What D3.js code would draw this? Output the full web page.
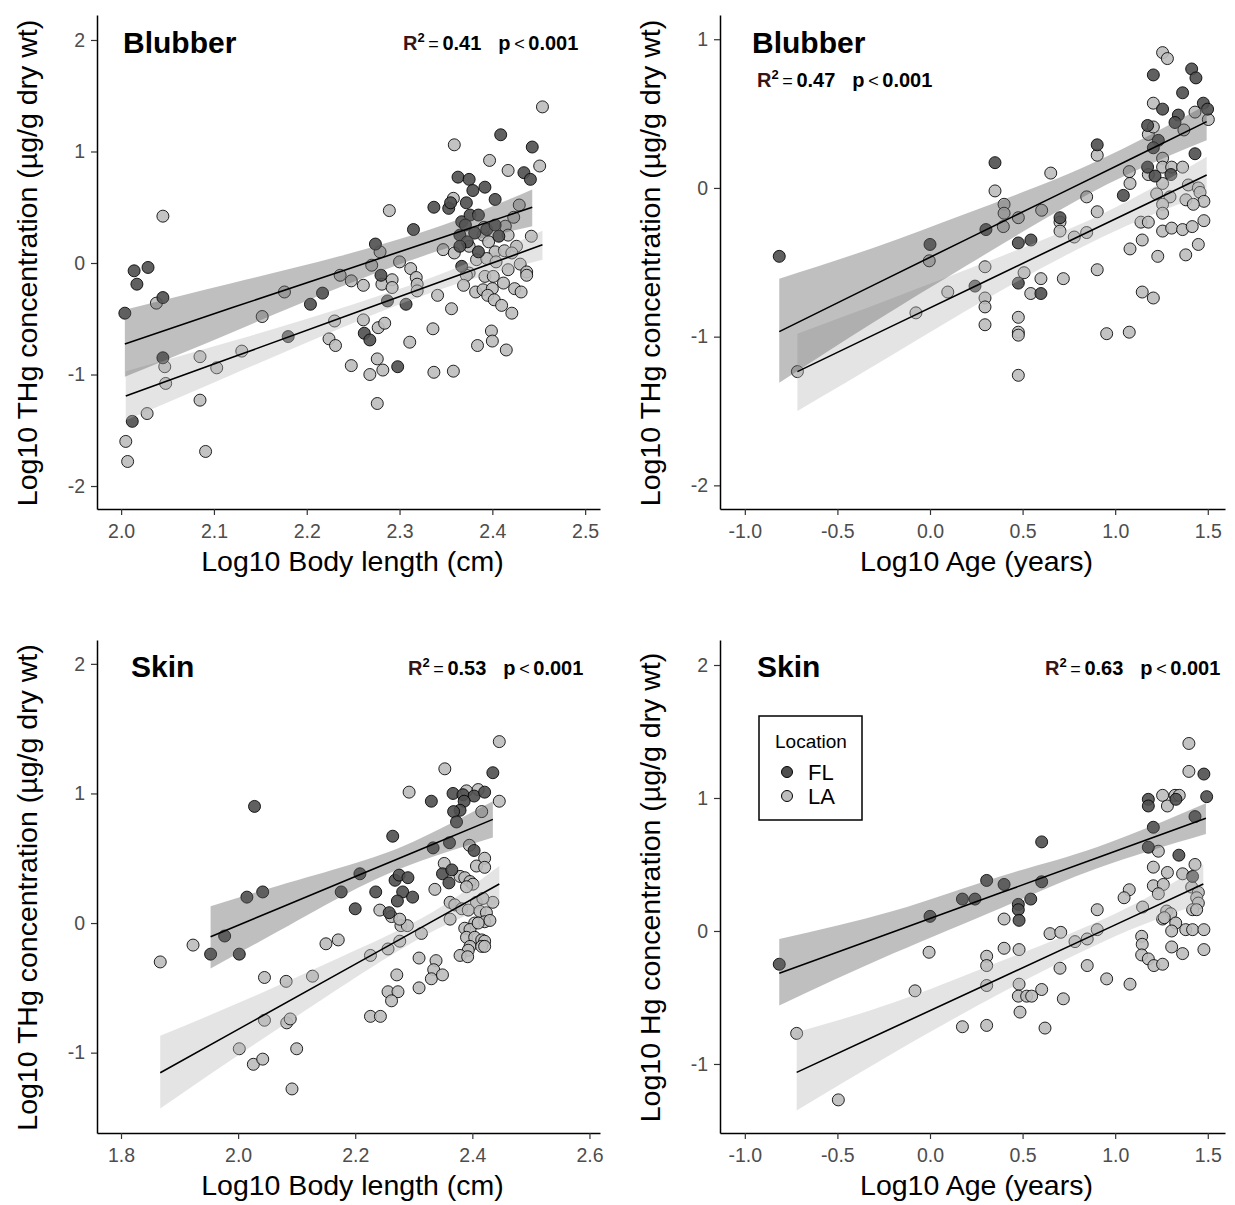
<!DOCTYPE html>
<meta charset="utf-8">
<style>
	body { margin: 0; background: #fff; font-family: "Liberation Sans", Arial, sans-serif; }
	.axis path, .axis line { stroke: #333; stroke-width: 1.2; }
	.axis .domain { stroke: #000; stroke-width: 1.5; }
	.axis text { fill: #4d4d4d; font-size: 19.5px; font-family: "Liberation Sans", Arial, sans-serif; }
	.title { font-weight: bold; font-size: 30px; fill: #000; }
	.lab { font-size: 28.5px; fill: #000; }
	.stat { font-size: 20px; fill: #000; }
</style>
<body>
<svg id="chart" width="1235" height="1205"></svg>

<script src="https://d3js.org/d3.v7.min.js"></script>
<script>
	// ---- data (log10 values) ----
	var blubLenFL = [[2.004,-0.45],[2.014,-0.07],[2.029,-0.04],[2.017,-0.19],[2.045,-0.31],[2.045,-0.85],[2.012,-1.42],[2.217,-0.27],[2.204,-0.37],[2.180,-0.66],
		[2.409,1.15],[2.443,1.04],[2.434,0.81],[2.441,0.75],[2.363,0.77],[2.375,0.75],[2.379,0.65],[2.392,0.68],[2.403,0.57],[2.337,0.50],[2.353,0.49],[2.355,0.54],
		[2.372,0.54],[2.315,0.30],[2.367,0.37],[2.376,0.43],[2.385,0.43],[2.371,0.34],[2.365,0.25],[2.381,0.27],[2.394,0.30],[2.403,0.34],[2.407,0.24],[2.373,0.19],
		[2.365,0.15],[2.385,0.10],[2.274,0.17],[2.367,-0.03],[2.280,-0.11],[2.307,-0.37],[2.262,-0.63],[2.268,-0.69],[2.298,-0.93],[2.287,-0.34]];
	var blubLenLA = [[2.045,0.42],[2.038,-0.36],[2.047,-0.93],[2.048,-1.08],[2.028,-1.35],[2.005,-1.60],[2.007,-1.78],[2.085,-0.84],[2.085,-1.23],[2.091,-1.69],
		[2.103,-0.94],[2.130,-0.79],[2.152,-0.48],[2.176,-0.26],[2.230,-0.52],[2.224,-0.68],[2.231,-0.74],
		[2.454,1.40],[2.359,1.06],[2.397,0.92],[2.417,0.83],[2.451,0.87],[2.289,0.47],[2.358,0.58],[2.429,0.52],[2.423,0.41],[2.442,0.24],[2.279,0.10],[2.270,-0.02],
		[2.300,0.01],[2.312,-0.05],[2.318,-0.13],[2.236,-0.11],[2.248,-0.16],[2.261,-0.20],[2.281,-0.19],[2.292,-0.15],[2.292,-0.22],[2.319,-0.19],[2.319,-0.25],
		[2.347,0.12],[2.359,0.09],[2.375,0.15],[2.390,0.25],[2.391,0.32],[2.396,0.19],[2.403,0.10],[2.414,0.33],[2.417,0.25],[2.426,0.15],[2.413,0.11],[2.421,0.09],
		[2.383,0.03],[2.394,0.04],[2.404,0.01],[2.430,-0.01],[2.437,-0.08],[2.437,-0.11],[2.417,-0.06],[2.375,-0.09],[2.372,-0.11],[2.392,-0.12],[2.401,-0.12],
		[2.412,-0.18],[2.369,-0.20],[2.382,-0.26],[2.390,-0.24],[2.400,-0.23],[2.395,-0.29],[2.402,-0.33],[2.410,-0.38],[2.424,-0.23],[2.431,-0.26],[2.421,-0.45],
		[2.341,-0.29],[2.356,-0.41],[2.261,-0.51],[2.277,-0.58],[2.284,-0.54],[2.311,-0.71],[2.336,-0.59],[2.384,-0.74],[2.399,-0.61],[2.400,-0.70],[2.415,-0.78],
		[2.248,-0.92],[2.268,-1.00],[2.276,-0.86],[2.282,-0.96],[2.337,-0.98],[2.358,-0.97],[2.276,-1.26]];

	var blubAgeFL = [[-0.814,-0.46],[0.0,-0.38],[0.243,-0.66],
		[1.206,0.76],[1.413,0.80],[1.436,0.74],[1.364,0.64],[1.256,0.53],[1.341,0.49],[1.476,0.57],[1.499,0.53],[1.175,0.42],[1.323,0.44],[0.903,0.29],[1.233,0.32],
		[1.206,0.27],[1.431,0.23],[0.351,0.17],[1.175,0.14],[1.301,0.09],[1.215,0.08],[1.044,-0.05],[0.702,-0.20],[0.302,-0.28],[0.477,-0.37],[0.545,-0.35],
		[0.477,-0.64],[0.599,-0.71]];
	var blubAgeLA = [[-0.004,-0.49],[0.096,-0.70],[-0.076,-0.84],[-0.716,-1.235],
		[1.256,0.91],[1.282,0.87],[1.206,0.57],[1.431,0.51],[1.503,0.46],[1.179,0.36],[1.206,0.41],[1.371,0.39],[0.903,0.22],[1.256,0.20],[1.256,0.14],[1.305,0.14],
		[1.364,0.14],[1.076,0.11],[0.652,0.10],[1.179,0.09],[0.351,-0.02],[1.080,0.03],[1.256,0.03],[1.395,0.02],[1.449,0.00],[1.224,-0.04],[1.458,-0.03],[1.296,-0.06],
		[0.846,-0.06],[1.256,-0.11],[1.382,-0.08],[1.479,-0.09],[1.422,-0.11],[0.400,-0.11],[0.400,-0.17],[0.477,-0.20],[0.603,-0.15],[1.256,-0.17],[0.903,-0.16],
		[0.396,-0.26],[0.702,-0.23],[0.702,-0.29],[0.779,-0.33],[0.846,-0.30],[1.139,-0.23],[1.179,-0.23],[1.256,-0.29],[1.305,-0.27],[1.364,-0.28],[1.416,-0.26],
		[1.479,-0.22],[1.146,-0.35],[1.080,-0.41],[1.230,-0.46],[1.381,-0.45],[1.449,-0.38],[0.297,-0.53],[0.508,-0.57],[0.599,-0.61],[0.720,-0.61],[0.544,-0.71],
		[0.903,-0.55],[1.146,-0.70],[1.206,-0.74],[0.297,-0.74],[0.297,-0.80],[0.297,-0.92],[0.477,-0.87],[0.477,-0.97],[0.477,-0.99],[0.954,-0.98],[1.076,-0.97],
		[0.477,-1.26]];

	var skinLenFL = [[2.028,0.90],[2.015,0.20],[2.042,0.24],[1.977,-0.10],[1.953,-0.24],[2.002,-0.24],[2.176,0.24],[2.200,0.11],[2.208,0.38],
		[2.435,1.16],[2.330,0.94],[2.367,1.00],[2.384,0.99],[2.403,0.98],[2.421,1.01],[2.386,0.94],[2.379,0.87],[2.368,0.86],[2.373,0.78],[2.264,0.67],[2.333,0.58],
		[2.361,0.62],[2.403,0.56],[2.349,0.38],[2.365,0.41],[2.360,0.31],[2.268,0.33],[2.275,0.37],[2.290,0.35],[2.235,0.24],[2.281,0.24],[2.272,0.17],[2.298,0.20],
		[2.258,0.08]];
	var skinLenLA = [[1.923,-0.17],[1.867,-0.30],[2.045,-0.42],[2.082,-0.45],[2.127,-0.41],[2.150,-0.16],[2.171,-0.13],[2.045,-0.75],[2.083,-0.77],[2.089,-0.74],
		[2.002,-0.97],[2.026,-1.09],[2.042,-1.05],[2.100,-0.97],[2.092,-1.28],
		[2.446,1.40],[2.353,1.19],[2.292,1.01],[2.390,1.02],[2.410,1.03],[2.446,0.94],[2.416,0.86],[2.395,0.60],[2.421,0.50],[2.407,0.44],[2.421,0.43],[2.352,0.46],
		[2.379,0.36],[2.387,0.35],[2.396,0.32],[2.401,0.30],[2.390,0.28],[2.336,0.26],[2.242,0.10],[2.435,0.16],[2.362,0.16],[2.370,0.14],[2.407,0.16],[2.418,0.19],
		[2.382,0.11],[2.393,0.10],[2.413,0.09],[2.424,0.08],[2.262,0.05],[2.278,-0.02],[2.289,-0.02],[2.276,0.03],[2.313,-0.08],[2.362,0.03],[2.404,0.00],[2.421,0.01],
		[2.430,0.02],[2.387,-0.04],[2.396,-0.05],[2.410,0.00],[2.390,-0.11],[2.404,-0.11],[2.416,-0.13],[2.421,-0.14],[2.396,-0.18],[2.416,-0.18],[2.393,-0.21],
		[2.379,-0.25],[2.392,-0.26],[2.421,-0.18],[2.226,-0.25],[2.256,-0.20],[2.276,-0.14],[2.309,-0.27],[2.338,-0.29],[2.334,-0.36],[2.330,-0.43],[2.349,-0.40],
		[2.271,-0.40],[2.256,-0.53],[2.273,-0.53],[2.262,-0.60],[2.309,-0.50],[2.226,-0.72],[2.243,-0.72]];

	var skinAgeFL = [[-0.814,-0.25],[0.0,0.11],[0.306,0.38],[0.175,0.24],[0.243,0.24],
		[1.479,1.18],[1.494,1.01],[1.179,0.99],[1.179,0.94],[1.328,0.99],[1.431,0.86],[1.206,0.78],[0.603,0.67],[1.179,0.63],[1.344,0.57],[1.418,0.41],[0.400,0.35],
		[0.603,0.37],[0.544,0.24],[0.477,0.20],[0.477,0.16],[0.481,0.08]];
	var skinAgeLA = [[-0.005,-0.16],[-0.081,-0.45],[-0.720,-0.77],[-0.495,-1.27],[0.175,-0.72],[0.306,-0.19],[0.306,-0.26],[0.306,-0.41],[0.306,-0.71],
		[1.398,1.41],[1.398,1.20],[1.256,1.02],[1.323,1.02],[1.346,1.02],[1.282,0.94],[1.233,0.60],[1.206,0.48],[1.282,0.44],[1.364,0.43],[1.431,0.50],[1.076,0.31],
		[1.048,0.25],[1.206,0.34],[1.260,0.35],[1.233,0.28],[1.413,0.33],[1.449,0.29],[1.440,0.25],[1.449,0.21],[1.418,0.16],[1.440,0.16],[1.148,0.18],[0.903,0.16],
		[1.278,0.15],[1.300,0.13],[1.256,0.09],[1.265,0.10],[1.327,0.06],[1.305,0.00],[1.381,0.01],[1.418,0.01],[1.479,0.01],[0.400,0.09],[0.648,-0.02],[0.706,-0.01],
		[0.783,-0.08],[0.849,-0.06],[0.903,0.01],[0.400,-0.13],[0.481,-0.14],[1.143,-0.04],[1.146,-0.10],[1.143,-0.18],[1.179,-0.21],[1.209,-0.26],[1.256,-0.25],
		[1.305,-0.12],[1.364,-0.17],[1.479,-0.14],[0.702,-0.28],[0.849,-0.26],[0.954,-0.36],[1.080,-0.40],[0.481,-0.40],[0.603,-0.44],[0.477,-0.49],[0.522,-0.49],
		[0.549,-0.49],[0.720,-0.51],[0.486,-0.61],[0.621,-0.73]];

	// fitted line with 95% band: [x, fit, lower, upper]
	var blubLenFLfit = [[2.004,-0.726,-1.02,-0.42],[2.12,-0.40,-0.62,-0.18],[2.235,-0.08,-0.22,0.06],[2.35,0.24,0.13,0.35],[2.443,0.50,0.33,0.66]];
	var blubLenLAfit = [[2.005,-1.193,-1.41,-0.97],[2.12,-0.846,-1.00,-0.70],[2.235,-0.498,-0.59,-0.41],[2.35,-0.151,-0.22,-0.08],[2.454,0.163,0.03,0.29]];
	var blubAgeFLfit = [[-0.814,-0.966,-1.31,-0.61],[-0.3,-0.65,-0.90,-0.40],[0.2,-0.344,-0.52,-0.17],[0.7,-0.04,-0.15,0.07],[1.1,0.205,0.11,0.30],[1.494,0.446,0.32,0.56]];
	var blubAgeLAfit = [[-0.716,-1.235,-1.50,-0.98],[-0.2,-0.926,-1.12,-0.74],[0.3,-0.627,-0.75,-0.50],[0.8,-0.328,-0.41,-0.25],[1.2,-0.089,-0.18,0.0],[1.494,0.087,-0.04,0.21]];
	var skinLenFLfit = [[1.953,-0.105,-0.35,0.13],[2.07,0.115,-0.06,0.29],[2.191,0.342,0.24,0.45],[2.3,0.547,0.46,0.63],[2.435,0.80,0.66,0.94]];
	var skinLenLAfit = [[1.867,-1.155,-1.43,-0.87],[2.03,-0.745,-0.93,-0.56],[2.191,-0.340,-0.45,-0.23],[2.33,0.009,-0.07,0.08],[2.446,0.301,0.16,0.44]];
	var skinAgeFLfit = [[-0.814,-0.318,-0.56,-0.06],[-0.2,-0.007,-0.17,0.15],[0.378,0.285,0.17,0.41],[0.9,0.549,0.47,0.63],[1.49,0.847,0.73,0.96]];
	var skinAgeLAfit = [[-0.72,-1.063,-1.35,-0.76],[-0.2,-0.728,-0.92,-0.54],[0.378,-0.355,-0.47,-0.23],[1.0,0.046,-0.04,0.13],[1.476,0.353,0.21,0.50]];

	var lenTicksBlubber = [2.0, 2.1, 2.2, 2.3, 2.4, 2.5];
	var lenTicksSkin = [1.8, 2.0, 2.2, 2.4, 2.6];
	var ageTicks = [-1.0, -0.5, 0.0, 0.5, 1.0, 1.5];
	var concTicksBlubber = [-2, -1, 0, 1, 2];
	var concTicksSkin = [-1, 0, 1, 2];
	var locations = ["FL", "LA"];

	var fillPt = {FL: "#4f4f4f", LA: "#bdbdbd"};
	var fillBand = {FL: "#5e5e5e", LA: "#b9b9b9"};

	var panels = [
		{title: "Blubber", fl: blubLenFL, la: blubLenLA, flFit: blubLenFLfit, laFit: blubLenLAfit,
			xTicks: lenTicksBlubber, yTicks: concTicksBlubber, xLab: "Log10 Body length (cm)", yLab: "Log10 THg concentration (µg/g dry wt)",
			r2: "0.41", box: {l: 97, r: 600, t: 15, b: 509}, xDom: [1.974, 2.516], yDom: [-2.206, 2.224],
			titlePos: [123, 53], statPos: [403, 50], legend: false},
		{title: "Blubber", fl: blubAgeFL, la: blubAgeLA, flFit: blubAgeFLfit, laFit: blubAgeLAfit,
			xTicks: ageTicks, yTicks: concTicksBlubber, xLab: "Log10 Age (years)", yLab: "Log10 THg concentration (µg/g dry wt)",
			r2: "0.47", box: {l: 720, r: 1225, t: 15, b: 509}, xDom: [-1.134, 1.593], yDom: [-2.159, 1.163],
			titlePos: [752, 53], statPos: [757, 87], legend: false},
		{title: "Skin", fl: skinLenFL, la: skinLenLA, flFit: skinLenFLfit, laFit: skinLenLAfit,
			xTicks: lenTicksSkin, yTicks: concTicksSkin, xLab: "Log10 Body length (cm)", yLab: "Log10 THg concentration (µg/g dry wt)",
			r2: "0.53", box: {l: 97, r: 600, t: 640, b: 1133}, xDom: [1.759, 2.618], yDom: [-1.62, 2.184],
			titlePos: [131, 677], statPos: [408, 675], legend: false},
		{title: "Skin", fl: skinAgeFL, la: skinAgeLA, flFit: skinAgeFLfit, laFit: skinAgeLAfit,
			xTicks: ageTicks, yTicks: concTicksSkin, xLab: "Log10 Age (years)", yLab: "Log10 Hg concentration (µg/g dry wt)",
			r2: "0.63", box: {l: 720, r: 1225, t: 640, b: 1133}, xDom: [-1.134, 1.593], yDom: [-1.519, 2.188],
			titlePos: [757, 677], statPos: [1045, 675], legend: true}
	];

	var svg = d3.select("#chart");

	panels.forEach(function(p) {
		var x = d3.scaleLinear().domain(p.xDom).range([p.box.l, p.box.r]);
		var y = d3.scaleLinear().domain(p.yDom).range([p.box.b, p.box.t]);
		var g = svg.append("g");

		// points first, smooth bands drawn on top (as in ggplot layer order)
		[["LA", p.la], ["FL", p.fl]].forEach(function(s) {
			g.append("g").selectAll("circle")
				.data(s[1])
				.enter().append("circle")
				.attr("cx", function(d) { return x(d[0]); })
				.attr("cy", function(d) { return y(d[1]); })
				.attr("r", 6)
				.attr("fill", fillPt[s[0]])
				.attr("fill-opacity", 0.9)
				.attr("stroke", "#000")
				.attr("stroke-opacity", 0.85)
				.attr("stroke-width", 1);
		});

		var area = d3.area()
			.x(function(d) { return x(d[0]); })
			.y0(function(d) { return y(d[2]); })
			.y1(function(d) { return y(d[3]); })
			.curve(d3.curveNatural);
		var line = d3.line()
			.x(function(d) { return x(d[0]); })
			.y(function(d) { return y(d[1]); });

		[["LA", p.laFit], ["FL", p.flFit]].forEach(function(s) {
			g.append("path").datum(s[1])
				.attr("d", area)
				.attr("fill", fillBand[s[0]])
				.attr("fill-opacity", s[0] == "FL" ? 0.4 : 0.38)
				.attr("stroke", "none");
		});
		[p.laFit, p.flFit].forEach(function(f) {
			g.append("path").datum(f)
				.attr("d", line)
				.attr("fill", "none")
				.attr("stroke", "#000")
				.attr("stroke-width", 1.6);
		});

		// axes
		g.append("g").attr("class", "axis")
			.attr("transform", "translate(0," + p.box.b + ")")
			.call(d3.axisBottom(x).tickValues(p.xTicks).tickSize(6).tickSizeOuter(0).tickPadding(9)
				.tickFormat(function(d) { return d.toFixed(1); }));
		g.append("g").attr("class", "axis")
			.attr("transform", "translate(" + p.box.l + ",0)")
			.call(d3.axisLeft(y).tickValues(p.yTicks).tickSize(6).tickSizeOuter(0).tickPadding(6)
				.tickFormat(function(d) { return String(d); }));

		// axis titles
		g.append("text").attr("class", "lab")
			.attr("x", (p.box.l + p.box.r) / 2 + 4)
			.attr("y", p.box.b + 62)
			.attr("text-anchor", "middle")
			.text(p.xLab);
		g.append("text").attr("class", "lab")
			.attr("transform", "translate(" + (p.box.l - 60) + "," + ((p.box.t + p.box.b) / 2 + 1) + ") rotate(-90)")
			.attr("text-anchor", "middle")
			.text(p.yLab);

		// panel title
		g.append("text").attr("class", "title")
			.attr("x", p.titlePos[0]).attr("y", p.titlePos[1])
			.text(p.title);

		// R2 / p label
		var st = g.append("text").attr("class", "stat")
			.attr("x", p.statPos[0]).attr("y", p.statPos[1]);
		st.append("tspan").attr("font-weight", "bold").attr("fill", "#3a1414").text("R");
		st.append("tspan").attr("font-size", "13px").attr("font-weight", "bold").attr("dy", -8).text("2");
		st.append("tspan").attr("dy", 8).attr("font-size", "18px").text("\u2009=\u2009");
		st.append("tspan").attr("font-weight", "bold").text(p.r2);
		st.append("tspan").attr("font-weight", "bold").attr("dx", 17).text("p");
		st.append("tspan").attr("font-size", "18px").text("\u2009<\u2009");
		st.append("tspan").attr("font-weight", "bold").text("0.001");

		if (p.legend) {
			var lg = g.append("g");
			lg.append("rect")
				.attr("x", 759).attr("y", 716).attr("width", 103).attr("height", 104)
				.attr("fill", "#fff").attr("stroke", "#000").attr("stroke-width", 1.5);
			lg.append("text").attr("x", 775).attr("y", 748)
				.attr("font-size", "19px").attr("fill", "#000").text("Location");
			var items = lg.selectAll("g.item").data(locations).enter().append("g").attr("class", "item")
				.attr("transform", function(d, i) { return "translate(0," + (772 + i * 24) + ")"; });
			items.append("circle").attr("cx", 787).attr("cy", 0).attr("r", 5.5)
				.attr("fill", function(d) { return fillPt[d]; })
				.attr("stroke", "#000").attr("stroke-width", 1);
			items.append("text").attr("x", 808).attr("y", 8)
				.attr("font-size", "22px").attr("fill", "#000")
				.text(function(d) { return d; });
		}
	});
</script>
</body>
